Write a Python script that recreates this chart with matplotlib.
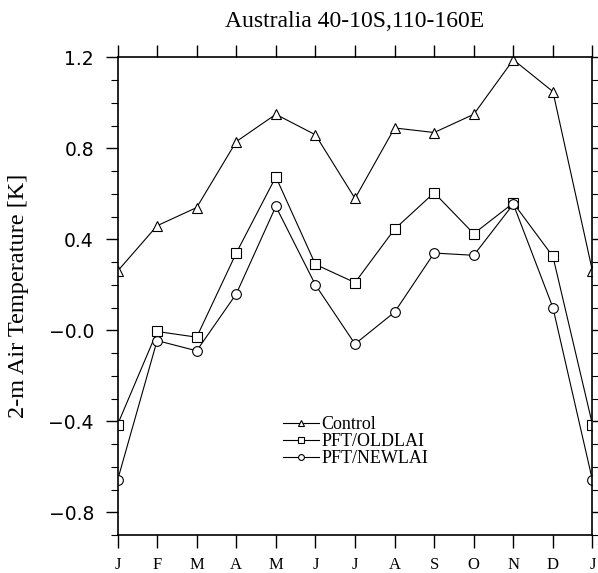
import matplotlib
matplotlib.use("Agg")
import matplotlib.pyplot as plt
from matplotlib.ticker import MultipleLocator, FixedLocator, FixedFormatter

months = ['J', 'F', 'M', 'A', 'M', 'J', 'J', 'A', 'S', 'O', 'N', 'D', 'J']

control = [0.26, 0.46, 0.54, 0.83, 0.95, 0.86, 0.58, 0.89, 0.87, 0.95, 1.19, 1.05, 0.26]
pft_oldlai = [-0.415, -0.005, -0.03, 0.34, 0.675, 0.29, 0.21, 0.445, 0.605, 0.425, 0.56, 0.325, -0.415]
pft_newlai = [-0.66, -0.045, -0.09, 0.16, 0.545, 0.2, -0.06, 0.08, 0.34, 0.33, 0.555, 0.1, -0.66]

ytick_vals = [-0.8, -0.4, 0.0, 0.4, 0.8, 1.2]
ytick_labels = ['\u22120.8', '\u22120.4', '\u22120.0', '0.4', '0.8', '1.2']

serif = 'Liberation Serif'
sans = 'DejaVu Sans'

fig = plt.figure(figsize=(5.98, 5.73), dpi=100)
ax = fig.add_axes([0.1965, 0.0663, 0.7943, 0.8334])

x = list(range(len(months)))
lw = 0.8
ax.plot(x, control, color='black', lw=lw, marker='^', ms=7.5, mfc='white', mec='black', mew=0.8, label='Control')
ax.plot(x, pft_oldlai, color='black', lw=lw, marker='s', ms=6.5, mfc='white', mec='black', mew=0.8, label='PFT/OLDLAI')
ax.plot(x, pft_newlai, color='black', lw=lw, marker='o', ms=7, mfc='white', mec='black', mew=0.8, label='PFT/NEWLAI')

ax.set_xlim(0, 12)
ax.set_ylim(-0.9, 1.2)

ax.xaxis.set_major_locator(FixedLocator(x))
ax.set_xticklabels(months, fontfamily=serif, fontsize=12)
ax.yaxis.set_major_locator(FixedLocator(ytick_vals))
ax.yaxis.set_major_formatter(FixedFormatter(ytick_labels))
ax.yaxis.set_minor_locator(MultipleLocator(0.1))
for lab in ax.get_yticklabels():
    lab.set_fontfamily(sans)
    lab.set_fontsize(13.5)

ax.tick_params(axis='x', which='major', direction='out', length=9, width=1.0,
               top=True, bottom=True, pad=7)
ax.tick_params(axis='y', which='major', direction='out', length=9, width=1.0,
               left=True, right=True, pad=8)
ax.tick_params(axis='y', which='minor', direction='out', length=5, width=0.8,
               left=True, right=True)
for s in ax.spines.values():
    s.set_linewidth(1.2)

ax.set_title('Australia 40-10S,110-160E', fontfamily=serif, fontsize=17, pad=22)
ax.set_ylabel('2-m Air Temperature [K]', fontfamily=serif, fontsize=17.5, labelpad=14)

ax.legend(loc='upper left', bbox_to_anchor=(0.33, 0.268), frameon=False,
          prop={'family': serif, 'size': 13}, markerscale=0.6,
          handlelength=2.0, handletextpad=0.1, labelspacing=0.0, borderpad=0)

fig.savefig('out.png', dpi=100)
